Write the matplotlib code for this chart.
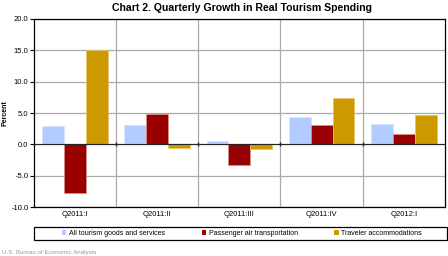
import numpy as np
import matplotlib
matplotlib.use("Agg")
import matplotlib.pyplot as plt
from matplotlib.patches import Rectangle

## data
quarters = ["Q2011:I", "Q2011:II", "Q2011:III", "Q2011:IV", "Q2012:I"]
all_tourism = [2.9, 3.1, 0.6, 4.3, 3.3]
air_transport = [-7.7, 4.8, -3.3, 3.1, 1.7]
accommodations = [15.0, -0.5, -0.7, 7.4, 4.7]
series_names = ["All tourism goods and services",
                "Passenger air transportation",
                "Traveler accommodations"]
y_ticks = [-10.0, -5.0, 0.0, 5.0, 10.0, 15.0, 20.0]

plt.rcParams["font.family"] = ["Liberation Sans", "DejaVu Sans"]

fig = plt.figure(figsize=(4.48, 2.56), dpi=100)
ax = fig.add_axes([0.0759, 0.191, 0.917, 0.735])

x = np.arange(len(quarters))
w = 0.8 / 3
colors = ["#B3CCFF", "#990000", "#CC9900"]
edges = ["#D6E3FF", "#D98C8C", "#E6C466"]
for i, vals in enumerate([all_tourism, air_transport, accommodations]):
    ax.bar(x + (i - 1) * w, vals, w, color=colors[i], edgecolor=edges[i],
           linewidth=0.6, label=series_names[i], zorder=3)

ax.set_xlim(-0.5, len(quarters) - 0.5)
ax.set_ylim(-10, 20)
ax.set_yticks(y_ticks)
ax.set_yticklabels(["%.1f" % v for v in y_ticks], fontsize=5.5)
ax.set_xticks(x)
ax.set_xticklabels(quarters, fontsize=5.5)
ax.tick_params(axis="x", length=0, pad=3)
ax.tick_params(axis="y", length=3, width=0.8, pad=1)

ax.set_xticks(x[:-1] + 0.5, minor=True)
ax.tick_params(axis="x", which="minor", length=0)
ax.grid(True, axis="y", color="#AAAAAA", linewidth=0.9, zorder=0)
ax.grid(True, axis="x", which="minor", color="#AAAAAA", linewidth=0.9, zorder=0)
ax.axhline(0, color="#222222", linewidth=0.8, zorder=4)
ax.plot(x[:-1] + 0.5, np.zeros(len(quarters) - 1), "|", color="#222222",
        markersize=3, zorder=4)
for s in ax.spines.values():
    s.set_linewidth(0.9)
    s.set_color("black")

fig.text(0.012, 0.56, "Percent", rotation=90, fontsize=5, fontweight="bold",
         ha="center", va="center")
fig.text(0.54, 0.967, "Chart 2. Quarterly Growth in Real Tourism Spending",
         ha="center", va="center", fontsize=7.6, fontweight="bold")

# legend box spans the plot width, entries sit centred inside it
fig.patches.append(Rectangle((0.0759, 0.0625), 0.921, 0.0508,
                             transform=fig.transFigure, fill=False,
                             edgecolor="black", linewidth=0.9))
leg = fig.legend(loc="center", bbox_to_anchor=(0.54, 0.088), ncol=3,
                 fontsize=5, frameon=False,
                 handlelength=0.6, handleheight=0.6, handletextpad=0.4,
                 columnspacing=5.3, borderpad=0.2)
for h in leg.legend_handles:
    h.set_linewidth(0)

fig.text(0.005, 0.015, "U.S. Bureau of Economic Analysis", fontsize=4.5,
         color="#999999", ha="left", va="center")

plt.savefig("out.png", dpi=100)
plt.close()
